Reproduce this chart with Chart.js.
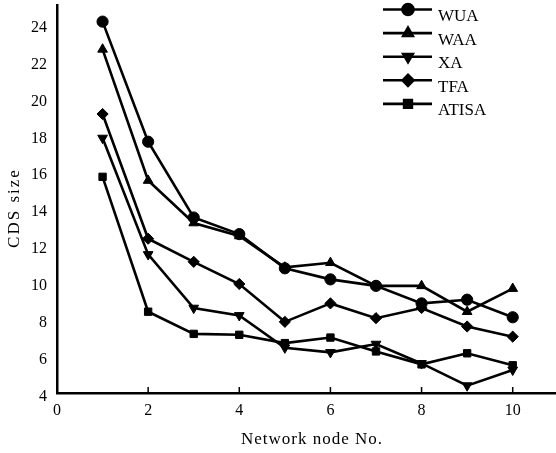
<!DOCTYPE html>
<html>
<head>
<meta charset="utf-8">
<script src="https://cdn.jsdelivr.net/npm/chart.js@4/dist/chart.umd.min.js"></script>
<style>
html,body{margin:0;padding:0;background:#fff;}
#wrap{width:556px;height:453px;position:relative;}
</style>
</head>
<body>
<div id="wrap"><canvas id="c" width="556" height="453"></canvas></div>
<script>
const nodes = [1,2,3,4,5,6,7,8,9,10];
const xTicks = [0,2,4,6,8,10];
const yTicks = [4,6,8,10,12,14,16,18,20,22,24];
const seriesNames = ["WUA","WAA","XA","TFA","ATISA"];
const xTitle = "Network node No.";
const yTitle = "CDS size";
const wua   = [24.1,17.6,13.5,12.6,10.75,10.15,9.8,8.85,9.05,8.1];
const waa   = [22.6,15.5,13.2,12.5,10.8,11.05,9.8,9.8,8.4,9.65];
const xa    = [17.8,11.5,8.6,8.2,6.45,6.2,6.65,5.6,4.4,5.25];
const tfa   = [19.1,12.35,11.1,9.9,7.85,8.85,8.05,8.6,7.6,7.05];
const atisa = [15.7,8.4,7.2,7.15,6.7,7.0,6.25,5.55,6.15,5.5];

const FONT = "'Liberation Serif','Times New Roman',serif";
const styles = [
  {pointStyle:'circle', rotation:0},
  {pointStyle:'triangle', rotation:0},
  {pointStyle:'triangle', rotation:180},
  {pointStyle:'rectRot', rotation:0},
  {pointStyle:'rect', rotation:0}
];
const allData = [wua,waa,xa,tfa,atisa];

const datasets = allData.map((arr,i)=>({
  label: seriesNames[i],
  data: arr.map((v,j)=>({x:nodes[j], y:v})),
  borderColor:'#000',
  backgroundColor:'#000',
  borderWidth:2.6,
  pointStyle: styles[i].pointStyle,
  pointRotation: styles[i].rotation,
  pointRadius: styles[i].pointStyle==='rect' ? 5.2 : 5.6,
  pointBorderWidth:1,
  tension:0,
  fill:false
}));

const legendPlugin = {
  id:'customLegend',
  afterDraw(chart){
    const ctx = chart.ctx;
    ctx.save();
    chart.data.datasets.forEach((ds,i)=>{
      const y = 9.5 + i*23.6;
      ctx.strokeStyle='#000';
      ctx.lineWidth=2.6;
      ctx.beginPath();
      ctx.moveTo(383,y); ctx.lineTo(432,y); ctx.stroke();
      ctx.fillStyle='#000';
      Chart.helpers.drawPoint(ctx,{pointStyle:ds.pointStyle, rotation:ds.pointRotation, radius:5.5, borderWidth:1}, 408, y);
      ctx.fillStyle='#000';
      ctx.font = "17px " + FONT;
      ctx.textBaseline='middle';
      ctx.textAlign='left';
      ctx.fillText(ds.label, 438, y+7);
    });
    ctx.restore();
  }
};

const extraPlugin = {
  id:'extras',
  afterDraw(chart){
    const ctx = chart.ctx, xs = chart.scales.x, area = chart.chartArea;
    ctx.save();
    ctx.strokeStyle='#000'; ctx.lineWidth=1.5;
    xTicks.forEach(t=>{
      if(t===0) return;
      const px = xs.getPixelForValue(t);
      ctx.beginPath(); ctx.moveTo(px,area.bottom); ctx.lineTo(px,area.bottom-6); ctx.stroke();
    });
    ctx.fillStyle='#000';
    ctx.font = "17px " + FONT;
    ctx.textAlign='center'; ctx.textBaseline='middle';
    ctx.letterSpacing = '1px';
    ctx.fillText(xTitle, 312, 440);
    ctx.translate(15, 208);
    ctx.rotate(-Math.PI/2);
    ctx.letterSpacing = '2px';
    ctx.fillText(yTitle, 0, 0);
    ctx.restore();
  }
};

function zeroPad(s){ s.paddingTop=0; s.paddingBottom=0; s.paddingLeft=0; s.paddingRight=0; }

new Chart(document.getElementById('c'),{
  type:'line',
  data:{datasets},
  options:{
    responsive:false,
    animation:false,
    devicePixelRatio:1,
    layout:{autoPadding:false, padding:{top:5,right:0,left:0,bottom:0}},
    plugins:{legend:{display:false}, tooltip:{enabled:false}},
    scales:{
      x:{
        type:'linear', min:0, max:10.95,
        afterBuildTicks(s){ s.ticks = xTicks.map(v=>({value:v})); },
        afterFit(s){ s.height = 60; zeroPad(s); },
        grid:{display:false, drawTicks:false},
        border:{display:true,color:'#000',width:2.5},
        ticks:{color:'#000', font:{family:FONT,size:16}, padding:8, maxRotation:0, autoSkip:false},
        title:{display:false}
      },
      y:{
        type:'linear', min:4, max:25,
        afterBuildTicks(s){ s.ticks = yTicks.map(v=>({value:v})); },
        afterFit(s){ s.width = 57; zeroPad(s); },
        grid:{display:false, drawTicks:false},
        border:{display:true,color:'#000',width:2.5},
        ticks:{color:'#000', font:{family:FONT,size:16}, padding:10, labelOffset:4, autoSkip:false},
        title:{display:false}
      }
    }
  },
  plugins:[legendPlugin, extraPlugin]
});
</script>
</body>
</html>
